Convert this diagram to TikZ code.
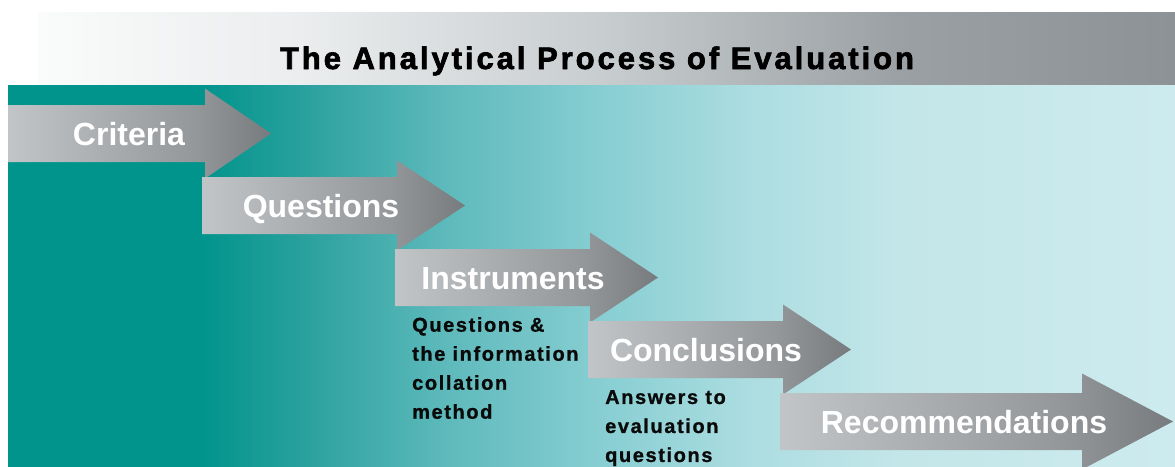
\documentclass[tikz,border=0pt]{standalone}
\usepackage{fontspec}
\setmainfont{Liberation Sans}
\newfontfamily\titlefont[LetterSpace=9.5,FakeBold=2.2]{Liberation Sans}
\newfontfamily\descfont[LetterSpace=8,FakeBold=1]{Liberation Sans}
\definecolor{tealA}{RGB}{0,148,140}
\definecolor{tealB}{RGB}{40,160,157}
\definecolor{tealC}{RGB}{95,186,188}
\definecolor{tealD}{RGB}{135,206,210}
\definecolor{tealE}{RGB}{172,221,225}
\definecolor{tealF}{RGB}{195,230,233}
\definecolor{tealG}{RGB}{205,235,238}
\definecolor{bandA}{RGB}{250,251,251}
\definecolor{bandB}{RGB}{235,237,238}
\definecolor{bandC}{RGB}{200,205,207}
\definecolor{bandD}{RGB}{155,160,164}
\definecolor{bandE}{RGB}{140,146,150}
\definecolor{arrA}{RGB}{194,197,199}
\definecolor{arrB}{RGB}{148,151,154}
\definecolor{arrC}{RGB}{120,123,126}
\definecolor{descText}{RGB}{10,10,10}
\pgfdeclarehorizontalshading{panelshade}{100bp}{color(0bp)=(tealA); color(25bp)=(tealA); color(33.2bp)=(tealA); color(37.5bp)=(tealB); color(43.9bp)=(tealC); color(50.4bp)=(tealD); color(56.8bp)=(tealE); color(63.2bp)=(tealF); color(75bp)=(tealG); color(100bp)=(tealG)}
\pgfdeclarehorizontalshading{bandshade}{100bp}{color(0bp)=(bandA); color(25bp)=(bandA); color(36.5bp)=(bandB); color(49.7bp)=(bandC); color(62.9bp)=(bandD); color(75bp)=(bandE); color(100bp)=(bandE)}
\pgfdeclarehorizontalshading{arrowshade}{100bp}{color(0bp)=(arrA); color(25bp)=(arrA); color(61bp)=(arrB); color(75bp)=(arrC); color(100bp)=(arrC)}
\tikzset{
  procarrow/.style={shading=arrowshade, draw=none},
  steplabel/.style={anchor=base, inner sep=0pt, text=white, font=\fontsize{32}{38}\selectfont\bfseries},
  desclabel/.style={anchor=north west, inner sep=0pt, align=left, text=descText, font=\descfont\fontsize{20}{29}\selectfont\bfseries},
}
% #1 left, #2 top, #3 body end, #4 tip, #5 half head height
\newcommand\ProcArrow[5]{%
  \path[procarrow] (#1,#2) -- (#3,#2) -- (#3,{#2+28.5-#5}) -- (#4,{#2+28.5})
    -- (#3,{#2+28.5+#5}) -- (#3,{#2+57}) -- (#1,{#2+57}) -- cycle;}
\begin{document}
\begin{tikzpicture}[x=1pt,y=-1pt]
\useasboundingbox (0,0) rectangle (1175,466);
\fill[white] (0,0) rectangle (1175,466);
% title band
\path[shading=bandshade] (38,12) rectangle (1175,85);
\node[anchor=base, inner sep=0pt, font=\titlefont\fontsize{31}{36}\selectfont\bfseries] (title) at (597,69) {The Analytical Process of Evaluation};
% panel
\path[shading=panelshade] (8,85) rectangle (1175,466);
% arrows
\ProcArrow{8}{105}{205}{271}{45}
\ProcArrow{202}{177}{397}{465}{45}
\ProcArrow{395}{249}{590}{658}{45}
\ProcArrow{588}{321}{783}{851}{45}
\ProcArrow{780}{393}{1082}{1173}{48}
% labels
\node[steplabel] (criteria) at (129,145) {Criteria};
\node[steplabel] (questions) at (321,217) {Questions};
\node[steplabel] (instruments) at (513,289) {Instruments};
\node[steplabel] (conclusions) at (706,361) {Conclusions};
\node[steplabel] (recommendations) at (964,433) {Recommendations};
% descriptions
\node[desclabel] (instrdesc) at (412,317) {Questions \&\\the information\\collation\\method};
\node[desclabel] (concdesc) at (605,390) {Answers to\\evaluation\\questions};
\end{tikzpicture}
\end{document}
